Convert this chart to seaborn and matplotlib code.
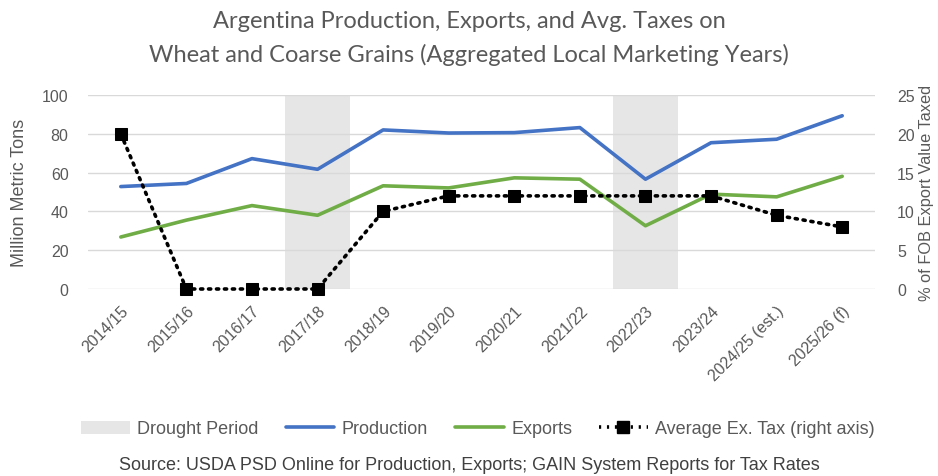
import matplotlib
matplotlib.use("Agg")
import matplotlib.pyplot as plt
import seaborn as sns
import pandas as pd
from matplotlib.lines import Line2D
from matplotlib.patches import Patch

years = ["2014/15", "2015/16", "2016/17", "2017/18", "2018/19", "2019/20",
         "2020/21", "2021/22", "2022/23", "2023/24", "2024/25 (est.)", "2025/26 (f)"]
production = [52.8, 54.4, 67.2, 61.7, 82.0, 80.4, 80.6, 83.2, 56.6, 75.4, 77.2, 89.3]
exports = [26.8, 35.5, 43.0, 38.0, 53.2, 52.1, 57.3, 56.6, 32.6, 48.9, 47.5, 58.1]
tax = [20, 0, 0, 0, 10, 12, 12, 12, 12, 12, 9.5, 8]
drought_years = ["2017/18", "2022/23"]

GRAY = "#595959"
BLUE = "#4472C4"
GREEN = "#70AD47"
SHADE = "#E6E6E6"

sns.set_theme(style="white")
plt.rcParams['font.family'] = ['Liberation Sans', 'DejaVu Sans']
TITLEF = ['Lato', 'DejaVu Sans']

df = pd.DataFrame({"year": years, "Production": production, "Exports": exports, "Tax": tax})
df["x"] = range(len(years))

fig = plt.figure(figsize=(9.38, 4.77), dpi=100)
ax = fig.add_axes([88/938, 1-290/477, (875-88)/938, (290-96)/477])

for dy in drought_years:
    i = years.index(dy)
    ax.axvspan(i - 0.5, i + 0.5, color=SHADE, zorder=0, lw=0)

sns.lineplot(data=df, x="x", y="Production", ax=ax, color=BLUE, lw=2.6, zorder=3)
sns.lineplot(data=df, x="x", y="Exports", ax=ax, color=GREEN, lw=2.6, zorder=3)

ax.set_xlim(-0.5, len(years) - 0.5)
ax.set_ylim(0, 100)
ax.set_yticks(range(0, 101, 20))
ax.yaxis.grid(True, color="#D9D9D9", lw=1)
ax.set_axisbelow(True)
for s in ax.spines.values():
    s.set_visible(False)
ax.set_xticks(range(len(years)))
ax.set_xticklabels(years, rotation=45, ha="right", rotation_mode="anchor", fontsize=11.5, color=GRAY)
ax.tick_params(axis="y", labelsize=11.5, colors=GRAY, length=0, pad=14)
ax.tick_params(axis="x", length=0, pad=10)
ax.set_xlabel("")
ax.set_ylabel("")

ax2 = ax.twinx()
sns.lineplot(data=df, x="x", y="Tax", ax=ax2, color="black", lw=2.6, linestyle=(0, (0.6, 1.6)),
             marker="s", markersize=9, markeredgecolor="black", markerfacecolor="black",
             zorder=4, dash_capstyle="round", clip_on=False)
ax2.set_ylim(0, 25)
ax2.set_yticks(range(0, 26, 5))
ax2.tick_params(axis="y", labelsize=11.5, colors=GRAY, length=0, pad=16)
for s in ax2.spines.values():
    s.set_visible(False)
ax2.set_ylabel("")
ax2.grid(False)

ymid = 1 - 193/477
fig.text(20/938, ymid, "Million Metric Tons", rotation=90, ha="center", va="center",
         fontsize=13, color=GRAY)
fig.text(926/938, ymid, "% of FOB Export Value Taxed", rotation=90, ha="center", va="center",
         fontsize=11.8, color=GRAY)

fig.text(0.5, 1-22/477, "Argentina Production, Exports, and Avg. Taxes on",
         ha="center", va="center", fontsize=17, color=GRAY, family=TITLEF)
fig.text(0.5, 1-55/477, "Wheat and Coarse Grains (Aggregated Local Marketing Years)",
         ha="center", va="center", fontsize=17, color=GRAY, family=TITLEF)

handles = [
    Patch(facecolor=SHADE, edgecolor="none", label="Drought Period"),
    Line2D([], [], color=BLUE, lw=2.6, label="Production"),
    Line2D([], [], color=GREEN, lw=2.6, label="Exports"),
    Line2D([], [], color="black", lw=2.6, linestyle=(0, (0.6, 1.6)), marker="s", markersize=8,
           label="Average Ex. Tax (right axis)"),
]
leg = fig.legend(handles=handles, loc="center", bbox_to_anchor=(478/938, 1-430/477), ncol=4,
                 frameon=False, fontsize=13, handlelength=2.7,
                 columnspacing=1.5, handletextpad=0.4)
for t in leg.get_texts():
    t.set_color(GRAY)

fig.text(0.5, 1-466/477, "Source: USDA PSD Online for Production, Exports; GAIN System Reports for Tax Rates",
         ha="center", va="center", fontsize=13, color="#404040")

fig.savefig("out.png", dpi=100)
